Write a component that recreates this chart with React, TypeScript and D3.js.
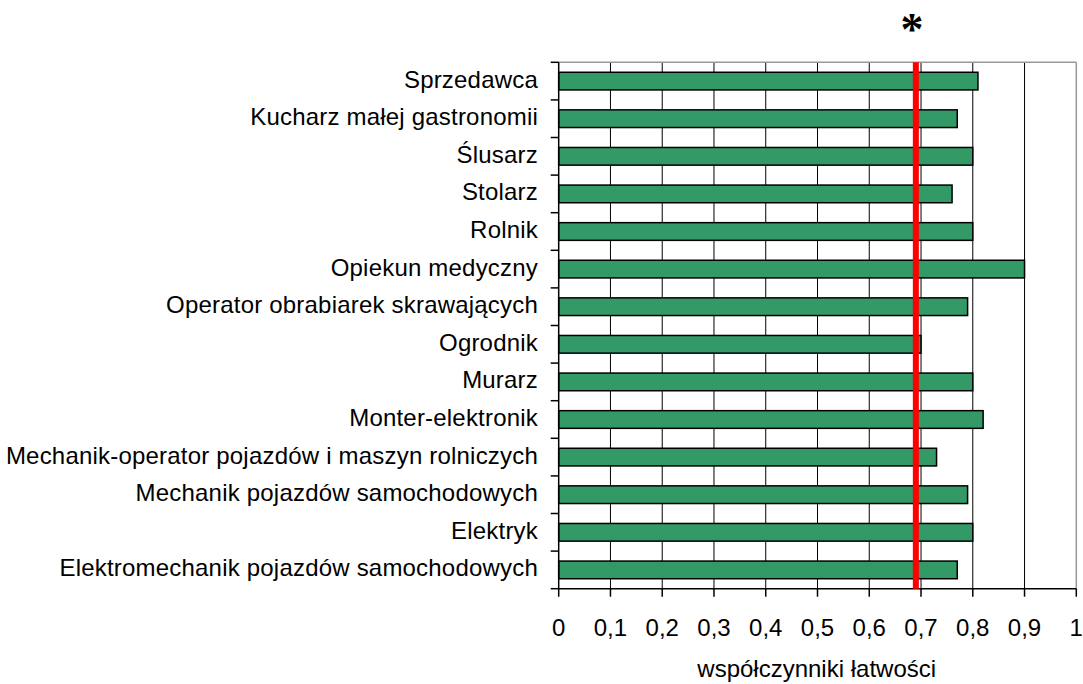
import React from "react";
import * as d3 from "d3";

const categories: string[] = [
  "Sprzedawca",
  "Kucharz małej gastronomii",
  "Ślusarz",
  "Stolarz",
  "Rolnik",
  "Opiekun medyczny",
  "Operator obrabiarek skrawających",
  "Ogrodnik",
  "Murarz",
  "Monter-elektronik",
  "Mechanik-operator pojazdów i maszyn rolniczych",
  "Mechanik pojazdów samochodowych",
  "Elektryk",
  "Elektromechanik pojazdów samochodowych",
];

const values: number[] = [0.81, 0.77, 0.8, 0.76, 0.8, 0.9, 0.79, 0.7, 0.8, 0.82, 0.73, 0.79, 0.8, 0.77];

const referenceValue = 0.69;
const tickValues: number[] = [0, 0.1, 0.2, 0.3, 0.4, 0.5, 0.6, 0.7, 0.8, 0.9, 1];
const tickLabels: string[] = ["0", "0,1", "0,2", "0,3", "0,4", "0,5", "0,6", "0,7", "0,8", "0,9", "1"];
const axisTitle = "współczynniki łatwości";
const markerText = "*";

const W = 1083;
const H = 684;
const left = 558.7;
const right = 1076.3;
const top = 62.3;
const bottom = 588.7;
const FONT = "'Liberation Sans', Arial, sans-serif";

export default function App() {
  const x = d3.scaleLinear().domain([0, 1]).range([left, right]);
  const y = d3
    .scaleBand<string>()
    .domain(categories)
    .range([top, bottom])
    .paddingInner(0.53)
    .paddingOuter(0.265);
  const step = y.step();
  const boundaries = d3.range(categories.length + 1).map((i) => top + i * step);

  return (
    <svg
      width={W}
      height={H}
      style={{ position: "absolute", left: 0, top: 0, background: "#fff" }}
    >
      {/* gridlines */}
      {tickValues.slice(1, -1).map((t) => (
        <line key={"g" + t} x1={x(t)} x2={x(t)} y1={top} y2={bottom} stroke="#000" strokeWidth={1} />
      ))}
      {/* top and right border */}
      <line x1={left} x2={right} y1={top} y2={top} stroke="#999" strokeWidth={1.5} />
      <line x1={right} x2={right} y1={top} y2={bottom} stroke="#999" strokeWidth={1.5} />
      {/* bars */}
      {categories.map((c, i) => (
        <rect
          key={c}
          x={x(0)}
          y={y(c)!}
          width={x(values[i]) - x(0)}
          height={y.bandwidth()}
          fill="#339966"
          stroke="#000"
          strokeWidth={1.5}
        />
      ))}
      {/* axes */}
      <line x1={left} x2={left} y1={top} y2={bottom} stroke="#000" strokeWidth={1.5} />
      <line x1={left} x2={right} y1={bottom} y2={bottom} stroke="#000" strokeWidth={1.5} />
      {boundaries.map((b, i) => (
        <line key={"yt" + i} x1={left - 8} x2={left} y1={b} y2={b} stroke="#000" strokeWidth={1.5} />
      ))}
      {tickValues.map((t) => (
        <line key={"xt" + t} x1={x(t)} x2={x(t)} y1={bottom} y2={bottom + 8} stroke="#000" strokeWidth={1.5} />
      ))}
      {/* reference line */}
      <line
        x1={x(referenceValue)}
        x2={x(referenceValue)}
        y1={top}
        y2={bottom}
        stroke="#ff0000"
        strokeWidth={6}
      />
      {/* category labels */}
      {categories.map((c) => (
        <text
          key={"l" + c}
          x={538}
          y={y(c)! + y.bandwidth() / 2 + 6.5}
          textAnchor="end"
          fontFamily={FONT}
          fontSize={24}
          letterSpacing={0.2}
          fill="#000"
        >
          {c}
        </text>
      ))}
      {/* tick labels */}
      {tickValues.map((t, i) => (
        <text
          key={"tl" + t}
          x={x(t)}
          y={636}
          textAnchor="middle"
          fontFamily={FONT}
          fontSize={24}
          fill="#000"
        >
          {tickLabels[i]}
        </text>
      ))}
      <text
        x={816.7}
        y={677}
        textAnchor="middle"
        fontFamily={FONT}
        fontSize={24}
        fill="#000"
      >
        {axisTitle}
      </text>
      <text
        x={912}
        y={45}
        textAnchor="middle"
        fontFamily="'Liberation Serif', 'Times New Roman', serif"
        fontWeight="bold"
        fontSize={46}
        fill="#000"
      >
        {markerText}
      </text>
    </svg>
  );
}
